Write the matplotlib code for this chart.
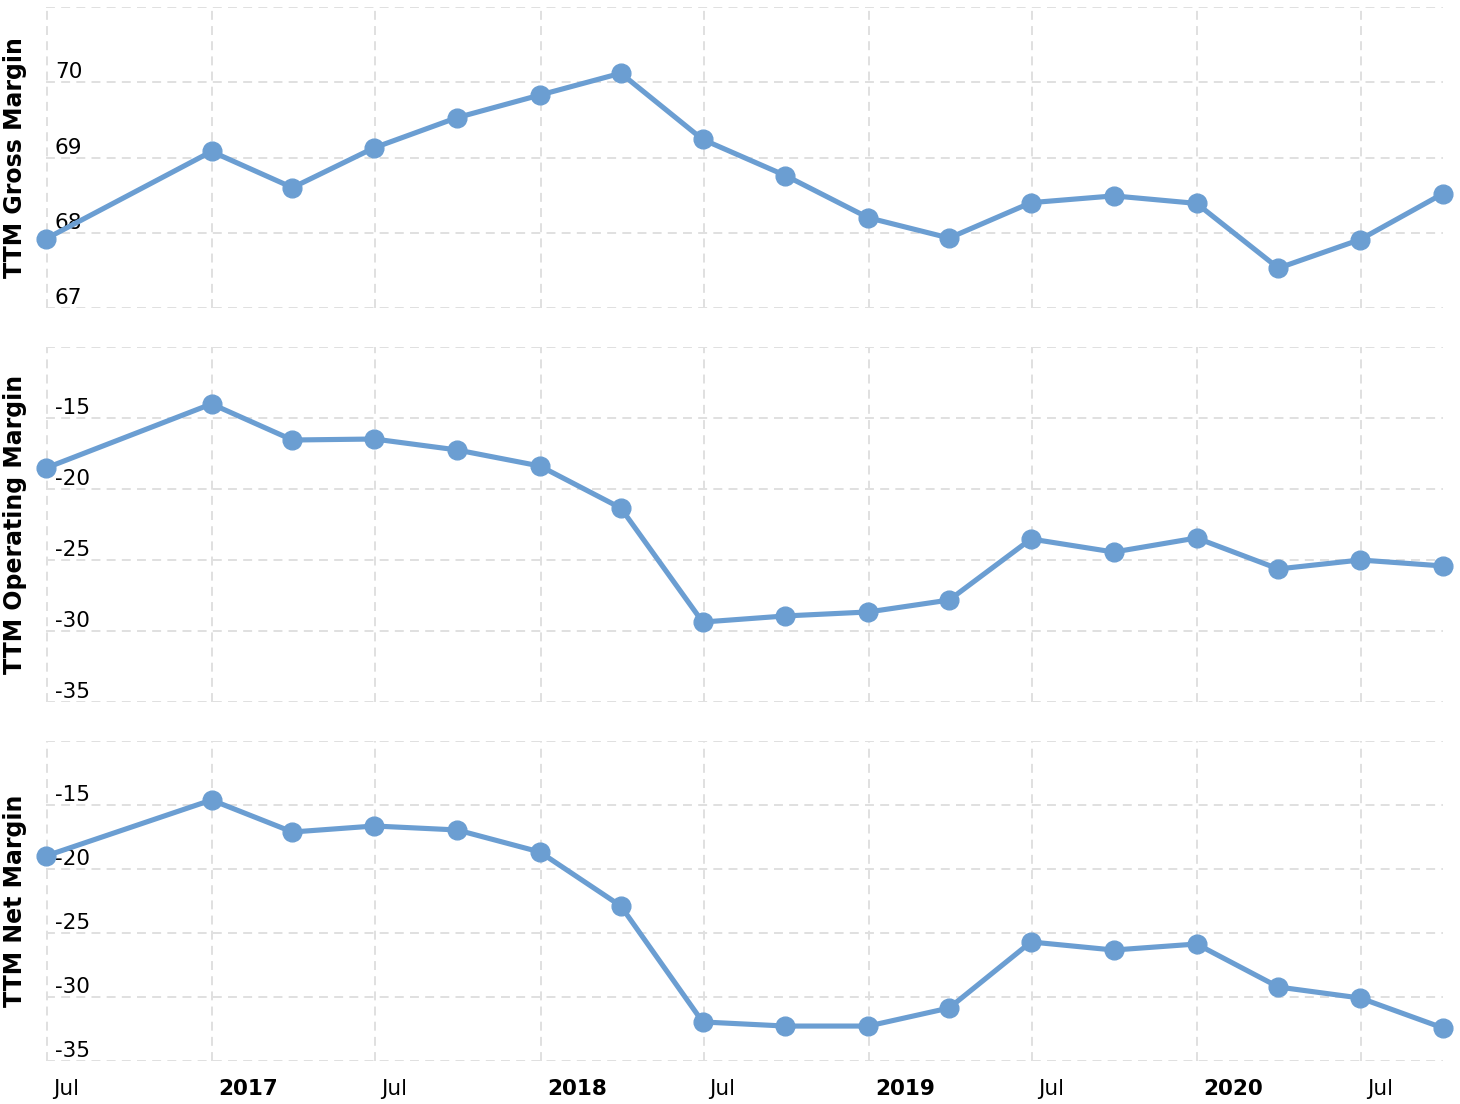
import matplotlib
matplotlib.use("Agg")
import matplotlib.pyplot as plt
import matplotlib.transforms as mtrans
import pandas as pd

dates = ["2016-06-30", "2016-12-31", "2017-03-31", "2017-06-30", "2017-09-30",
         "2017-12-31", "2018-03-31", "2018-06-30", "2018-09-30", "2018-12-31",
         "2019-03-31", "2019-06-30", "2019-09-30", "2019-12-31", "2020-03-31",
         "2020-06-30", "2020-09-30"]

gross_margin = [67.92, 69.08, 68.60, 69.13, 69.53, 69.83, 70.12, 69.24, 68.76,
                68.20, 67.93, 68.40, 68.49, 68.39, 67.53, 67.91, 68.52]
operating_margin = [-18.52, -14.01, -16.55, -16.48, -17.25, -18.38, -21.34, -29.37,
                    -28.94, -28.66, -27.82, -23.52, -24.44, -23.45, -25.63, -25.00, -25.42]
net_margin = [-18.98, -14.61, -17.11, -16.64, -16.95, -18.67, -22.89, -31.95,
              -32.27, -32.27, -30.86, -25.70, -26.33, -25.86, -29.22, -30.08, -32.42]

panel_titles = ["TTM Gross Margin", "TTM Operating Margin", "TTM Net Margin"]
gross_ticks = [67, 68, 69, 70, 71]
gross_ticklabels = ["67", "68", "69", "70", ""]
margin_ticks = [-35, -30, -25, -20, -15, -10]
margin_ticklabels = ["-35", "-30", "-25", "-20", "-15", ""]

x_tick_dates = ["2016-07-01", "2017-01-01", "2017-07-01", "2018-01-01", "2018-07-01",
                "2019-01-01", "2019-07-01", "2020-01-01", "2020-07-01"]
x_tick_labels = ["Jul", "2017", "Jul", "2018", "Jul", "2019", "Jul", "2020", "Jul"]

x = pd.to_datetime(dates)
xt = pd.to_datetime(x_tick_dates)

W, H = 1460, 1104
DPI = 100
fig = plt.figure(figsize=(W / DPI, H / DPI), dpi=DPI)
color = "#6b9ed2"
grid_color = "#e0e0e0"

left_px, right_px = 46, 1443
panels_px = [(7, 308), (347, 702), (741, 1061)]
series = [gross_margin, operating_margin, net_margin]
yticks_all = [gross_ticks, margin_ticks, margin_ticks]
ylabels_all = [gross_ticklabels, margin_ticklabels, margin_ticklabels]

px = 72 / DPI  # points per pixel

for i, ((top, bot), vals, yt, yl, title) in enumerate(
        zip(panels_px, series, yticks_all, ylabels_all, panel_titles)):
    ax = fig.add_axes([left_px / W, 1 - bot / H, (right_px - left_px) / W, (bot - top) / H])
    ax.plot(x, vals, color=color, lw=3.7, marker="o", markersize=13.5,
            clip_on=False, zorder=3, solid_joinstyle="round")
    ax.set_xlim(x[0], x[-1])
    ax.set_ylim(yt[0], yt[-1])
    ax.set_yticks(yt)
    ax.set_yticklabels(yl)
    ax.set_xticks(xt)
    ax.set_xticklabels([])
    for s in ax.spines.values():
        s.set_visible(False)
    ax.grid(True, color=grid_color, lw=1.4, ls=(0, (4.6, 3.2)))
    ax.set_axisbelow(True)
    ax.tick_params(axis="both", length=0)
    ax.tick_params(axis="y", labelsize=15.5, pad=-9 * px)
    for lab in ax.get_yticklabels():
        lab.set_horizontalalignment("left")
        lab.set_verticalalignment("bottom")
    ax.set_ylabel(title, fontsize=17, fontweight="bold")
    ax.yaxis.set_label_coords((27.5 - left_px) / (right_px - left_px), 0.5)
    if i == 2:
        trans = mtrans.blended_transform_factory(ax.transData, ax.transAxes) + \
            mtrans.ScaledTranslation(6 / DPI, -28 / DPI, fig.dpi_scale_trans)
        for d, lab in zip(xt, x_tick_labels):
            ax.text(d, 0, lab, transform=trans, ha="left", va="center", fontsize=15.5,
                    fontweight="normal" if lab == "Jul" else "bold", clip_on=False)

fig.savefig("out.png", dpi=DPI, facecolor="white")
